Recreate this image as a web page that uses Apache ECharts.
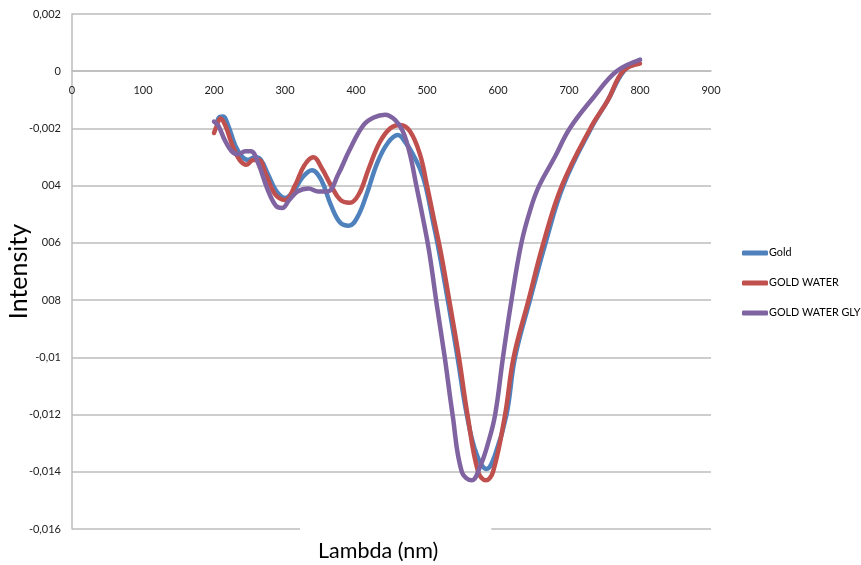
<!DOCTYPE html>
<html>
<head>
<meta charset="utf-8">
<script src="https://cdn.jsdelivr.net/npm/echarts@6/dist/echarts.min.js"></script>
<style>
html,body{margin:0;padding:0;background:#fff;}
#chart{width:861px;height:565px;}
</style>
</head>
<body>
<div id="chart"></div>
<script>
// ---- data ----
var seriesNames = ["Gold", "GOLD WATER", "GOLD WATER GLY"];

var goldX = [204, 208, 213, 220, 230, 240, 248, 258, 266, 276, 288, 300, 312, 325, 338, 351, 365, 378, 390, 402, 415, 430, 445, 459, 470, 480, 490, 498, 508, 517, 530, 543, 556, 570, 584, 596, 612, 624, 645, 667, 692, 731, 755, 777, 800];
var goldY = [-0.0018, -0.0016, -0.00158, -0.0019, -0.0026, -0.0030, -0.0031, -0.0030, -0.0031, -0.0036, -0.0042, -0.00443, -0.0042, -0.0037, -0.00346, -0.0038, -0.0047, -0.0053, -0.0054, -0.0051, -0.0043, -0.0032, -0.0025, -0.00223, -0.0025, -0.0029, -0.0034, -0.0040, -0.0052, -0.0063, -0.0081, -0.0100, -0.0120, -0.0134, -0.0139, -0.0134, -0.0120, -0.0100, -0.0080, -0.0060, -0.0040, -0.0020, -0.0010, 0.0000, 0.0004];

var waterX = [200, 204, 209, 216, 226, 236, 246, 255, 263, 273, 286, 300, 314, 327, 340, 352, 365, 378, 391, 404, 418, 433, 448, 462, 476, 490, 500, 510, 520, 532, 545, 557, 572, 583, 593, 610, 622, 643, 664, 690, 730, 755, 776, 800];
var waterY = [-0.00216, -0.0019, -0.00165, -0.0019, -0.0026, -0.0031, -0.00327, -0.0031, -0.0031, -0.0036, -0.0043, -0.0045, -0.0040, -0.0033, -0.00301, -0.0034, -0.0040, -0.0045, -0.0046, -0.0043, -0.0034, -0.0025, -0.0020, -0.00188, -0.0021, -0.0029, -0.0040, -0.0052, -0.0064, -0.0081, -0.0100, -0.0120, -0.0140, -0.0143, -0.0140, -0.0120, -0.0100, -0.0080, -0.0060, -0.0040, -0.0020, -0.0010, 0.0000, 0.00027];

var glyX = [200, 206, 215, 225, 234, 244, 252, 262, 275, 287, 296, 306, 318, 333, 347, 360, 375, 390, 410, 425, 441, 455, 466, 476, 485, 494, 503, 514, 525, 536, 549, 563, 575, 586, 596, 607, 619, 633, 646, 658, 680, 701, 735, 767, 800];
var glyY = [-0.00176, -0.0019, -0.0024, -0.0028, -0.0029, -0.0028, -0.0028, -0.0032, -0.0041, -0.0047, -0.00478, -0.0045, -0.0042, -0.0041, -0.0042, -0.0042, -0.0036, -0.0028, -0.0019, -0.00162, -0.00152, -0.0017, -0.0021, -0.0029, -0.0040, -0.0051, -0.0063, -0.0082, -0.0100, -0.0120, -0.0140, -0.0143, -0.0138, -0.0130, -0.0120, -0.0100, -0.0080, -0.0060, -0.0048, -0.0040, -0.0030, -0.0020, -0.0009, 0.0000, 0.0004];

var xTickLabels = ["0", "100", "200", "300", "400", "500", "600", "700", "800", "900"];
var yTickLabels = ["-0,016", "-0,014", "-0,012", "-0,01", "008", "006", "004", "-0,002", "0", "0,002"];

var xTitle = "Lambda (nm)";
var yTitle = "Intensity";

// ---- chart ----
function pairs(xs, ys) {
  var out = [];
  for (var i = 0; i < xs.length; i++) out.push([xs[i], ys[i]]);
  return out;
}
var colors = ["#4F81BD", "#C0504D", "#8064A2"];
var FONT = "Lato";
var chart = echarts.init(document.getElementById('chart'), null, {renderer: 'canvas'});

var option = {
  animation: false,
  backgroundColor: '#ffffff',
  color: colors,
  grid: {left: 72, right: 150, top: 14, bottom: 36, containLabel: false, outerBoundsMode: 'none'},
  title: {
    text: xTitle,
    left: 300,
    top: 526,
    padding: [13, 53, 0, 18],
    backgroundColor: '#ffffff',
    textStyle: {fontFamily: FONT, fontSize: 21.5, fontWeight: 'normal', color: '#000', lineHeight: 24}
  },
  legend: {
    orient: 'vertical',
    left: 742,
    top: 246,
    padding: 0,
    itemWidth: 26,
    itemHeight: 5,
    itemGap: 16,
    icon: 'roundRect',
    data: seriesNames,
    textStyle: {fontFamily: FONT, fontSize: 10.8, color: '#000', lineHeight: 14, padding: [0, 0, 0, -4]}
  },
  xAxis: {
    type: 'value',
    position: 'bottom',
    offset: -458,
    min: 0, max: 900, interval: 100,
    axisLine: {show: true, onZero: false, lineStyle: {color: '#bcbcbc', width: 1.5}},
    axisTick: {show: false},
    splitLine: {show: false},
    axisLabel: {
      margin: 14, fontFamily: FONT, fontSize: 11, color: '#222',
      formatter: function (v) { return xTickLabels[Math.round(v / 100)]; }
    }
  },
  yAxis: {
    type: 'value',
    min: -0.016, max: 0.002, interval: 0.002,
    name: yTitle,
    nameLocation: 'middle',
    nameGap: 41,
    nameMoveOverlap: false,
    nameRotate: 90,
    nameTextStyle: {fontFamily: FONT, fontSize: 25, color: '#000'},
    axisLine: {show: true, onZero: false, lineStyle: {color: '#bcbcbc', width: 1.5}},
    axisTick: {show: false},
    splitLine: {show: true, lineStyle: {color: '#bcbcbc', width: 1.5}},
    axisLabel: {
      margin: 11, fontFamily: FONT, fontSize: 11, color: '#222',
      formatter: function (v) { return yTickLabels[Math.round(v / 0.002) + 8]; }
    }
  },
  series: [
    {name: seriesNames[0], type: 'line', smooth: 0.4, symbol: 'none', data: pairs(goldX, goldY),
     lineStyle: {width: 4.5, color: colors[0], cap: 'round', join: 'round'}},
    {name: seriesNames[1], type: 'line', smooth: 0.4, symbol: 'none', data: pairs(waterX, waterY),
     lineStyle: {width: 4.5, color: colors[1], cap: 'round', join: 'round'}},
    {name: seriesNames[2], type: 'line', smooth: 0.4, symbol: 'none', data: pairs(glyX, glyY),
     lineStyle: {width: 4.5, color: colors[2], cap: 'round', join: 'round'}}
  ]
};
chart.setOption(option);
</script>
</body>
</html>
